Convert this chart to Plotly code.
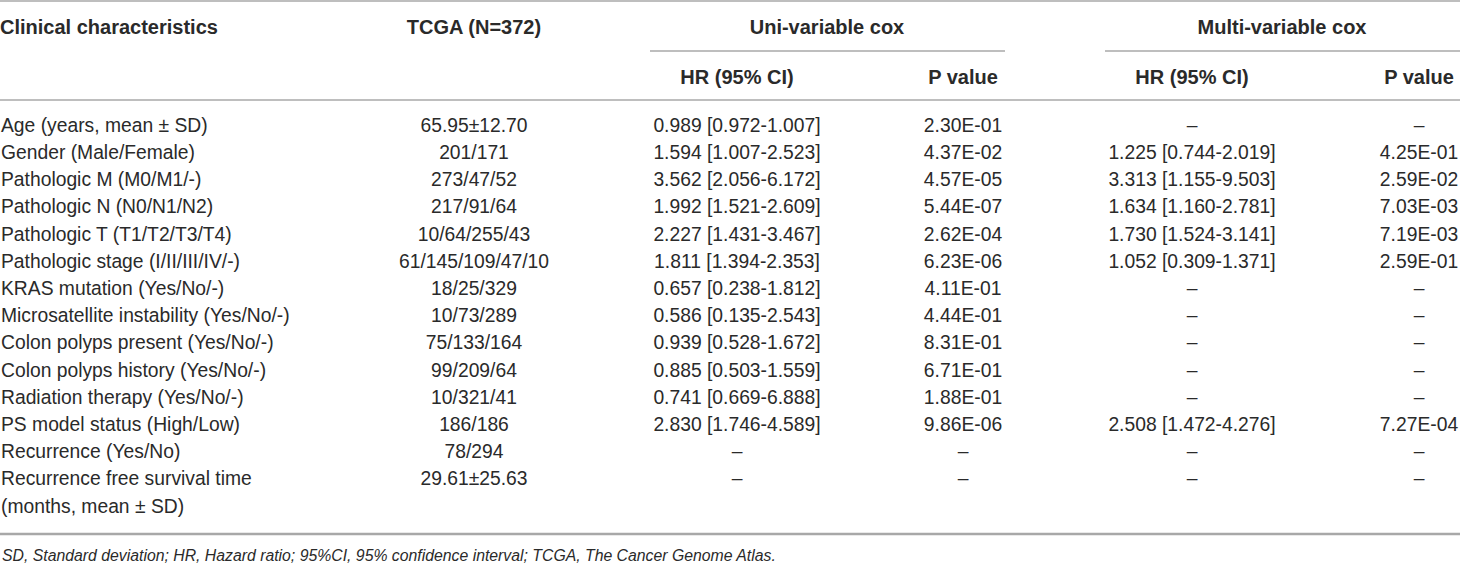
import plotly.graph_objects as go

# table contents
characteristics = [
    "Age (years, mean ± SD)",
    "Gender (Male/Female)",
    "Pathologic M (M0/M1/-)",
    "Pathologic N (N0/N1/N2)",
    "Pathologic T (T1/T2/T3/T4)",
    "Pathologic stage (I/II/III/IV/-)",
    "KRAS mutation (Yes/No/-)",
    "Microsatellite instability (Yes/No/-)",
    "Colon polyps present (Yes/No/-)",
    "Colon polyps history (Yes/No/-)",
    "Radiation therapy (Yes/No/-)",
    "PS model status (High/Low)",
    "Recurrence (Yes/No)",
    "Recurrence free survival time<br>(months, mean ± SD)",
]
tcga = [
    "65.95±12.70", "201/171", "273/47/52", "217/91/64", "10/64/255/43",
    "61/145/109/47/10", "18/25/329", "10/73/289", "75/133/164", "99/209/64",
    "10/321/41", "186/186", "78/294", "29.61±25.63",
]
uni_hr = [
    "0.989 [0.972-1.007]", "1.594 [1.007-2.523]", "3.562 [2.056-6.172]",
    "1.992 [1.521-2.609]", "2.227 [1.431-3.467]", "1.811 [1.394-2.353]",
    "0.657 [0.238-1.812]", "0.586 [0.135-2.543]", "0.939 [0.528-1.672]",
    "0.885 [0.503-1.559]", "0.741 [0.669-6.888]", "2.830 [1.746-4.589]",
    "–", "–",
]
uni_p = [
    "2.30E-01", "4.37E-02", "4.57E-05", "5.44E-07", "2.62E-04", "6.23E-06",
    "4.11E-01", "4.44E-01", "8.31E-01", "6.71E-01", "1.88E-01", "9.86E-06",
    "–", "–",
]
multi_hr = [
    "–", "1.225 [0.744-2.019]", "3.313 [1.155-9.503]", "1.634 [1.160-2.781]",
    "1.730 [1.524-3.141]", "1.052 [0.309-1.371]", "–", "–", "–", "–", "–",
    "2.508 [1.472-4.276]", "–", "–",
]
multi_p = [
    "–", "4.25E-01", "2.59E-02", "7.03E-03", "7.19E-03", "2.59E-01",
    "–", "–", "–", "–", "–", "7.27E-04", "–", "–",
]
footnote = ("SD, Standard deviation; HR, Hazard ratio; 95%CI, 95% confidence "
            "interval; TCGA, The Cancer Genome Atlas.")

W, H = 1460, 563
FONT = "Liberation Sans, Arial, Helvetica, sans-serif"
TXT = "#2a2a2a"
LINE = "#a8a8a8"
FS = 19.3

row0, step = 127, 27.2

# split multi-line labels into extra rows
lab_text, lab_y = [], []
for i, c in enumerate(characteristics):
    for k, part in enumerate(c.split("<br>")):
        lab_text.append(part)
        lab_y.append(row0 + (i + k) * step)
rows_y = [row0 + i * step for i in range(len(characteristics))]

fig = go.Figure()

fig.add_trace(go.Scatter(
    x=[1] * len(lab_text), y=lab_y, text=lab_text, mode="text",
    textposition="middle right", textfont=dict(family=FONT, size=FS, color=TXT),
    hoverinfo="skip", showlegend=False,
))

col_x = {"tcga": 474, "uhr": 737, "up": 963, "mhr": 1192, "mp": 1419}
for key, vals in [("tcga", tcga), ("uhr", uni_hr), ("up", uni_p),
                  ("mhr", multi_hr), ("mp", multi_p)]:
    fig.add_trace(go.Scatter(
        x=[col_x[key]] * len(vals), y=rows_y, text=vals, mode="text",
        textposition="middle center",
        textfont=dict(family=FONT, size=FS, color=TXT),
        hoverinfo="skip", showlegend=False,
    ))

# header texts
hfont = dict(family=FONT, size=20, color=TXT, weight="bold")
fig.add_trace(go.Scatter(
    x=[0], y=[29], text=["Clinical characteristics"], mode="text",
    textposition="middle right", textfont=hfont, hoverinfo="skip", showlegend=False,
))
fig.add_trace(go.Scatter(
    x=[col_x["tcga"], 827, 1282, col_x["uhr"], col_x["up"], col_x["mhr"], col_x["mp"]],
    y=[29, 29, 29, 79, 79, 79, 79],
    text=["TCGA (N=372)", "Uni-variable cox", "Multi-variable cox",
          "HR (95% CI)", "P value", "HR (95% CI)", "P value"],
    mode="text", textposition="middle center", textfont=hfont,
    hoverinfo="skip", showlegend=False,
))

# rules
line = dict(color=LINE, width=1.6)
shapes = [
    dict(type="line", x0=0, x1=W, y0=1, y1=1, line=line),
    dict(type="line", x0=650, x1=1005, y0=51, y1=51, line=line),
    dict(type="line", x0=1105, x1=W, y0=51, y1=51, line=line),
    dict(type="line", x0=0, x1=W, y0=100, y1=100, line=line),
    dict(type="line", x0=0, x1=W, y0=534, y1=534, line=dict(color=LINE, width=2.5)),
]
for s in shapes:
    s.update(xref="x", yref="y", layer="below")

fig.add_annotation(
    x=0, y=555, xref="x", yref="y", text="<i>" + footnote + "</i>",
    showarrow=False, xanchor="left", yanchor="middle",
    font=dict(family=FONT, size=15.8, color=TXT),
)

fig.update_layout(
    width=W, height=H, margin=dict(l=0, r=0, t=0, b=0),
    paper_bgcolor="white", plot_bgcolor="white", shapes=shapes,
    xaxis=dict(range=[0, W], visible=False, fixedrange=True),
    yaxis=dict(range=[H, 0], visible=False, fixedrange=True),
)

# drop the default page margin so the figure fills the window
fig.write_html(
    "out.html",
    post_script="document.body.style.margin='0';document.body.style.overflow='hidden';",
    config={"displayModeBar": False},
)
